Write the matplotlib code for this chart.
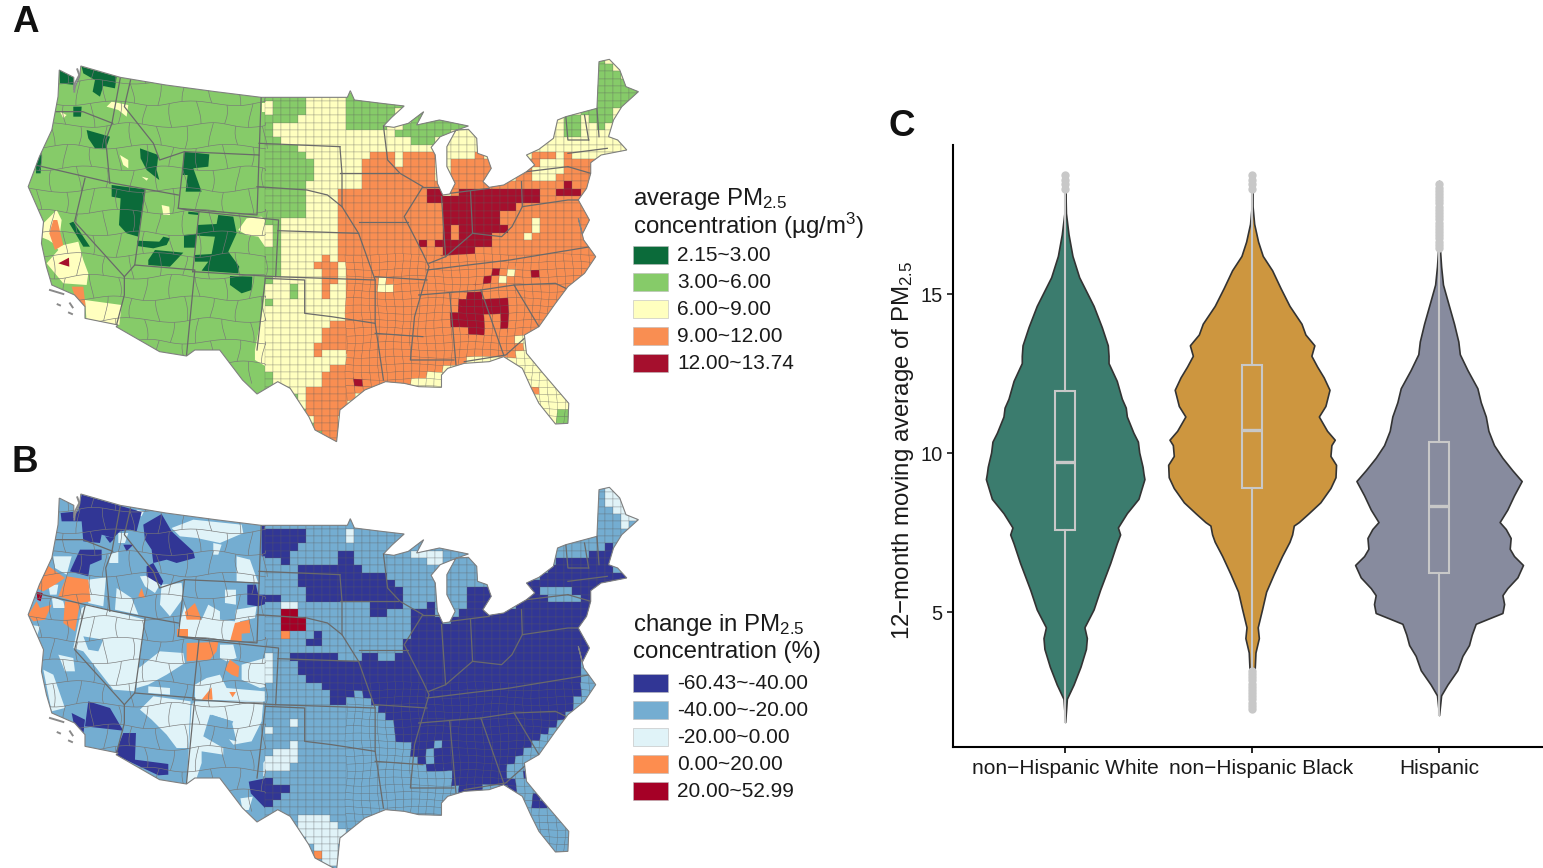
import numpy as np
import matplotlib
matplotlib.use("Agg")
import matplotlib.pyplot as plt
from matplotlib.collections import LineCollection, PolyCollection
from matplotlib.patches import Polygon, Rectangle
from matplotlib.path import Path
from matplotlib.transforms import ScaledTranslation

plt.rcParams["font.family"] = ["Liberation Sans", "DejaVu Sans"]
plt.rcParams["mathtext.fontset"] = "custom"
plt.rcParams["mathtext.rm"] = "Liberation Sans"
plt.rcParams["mathtext.default"] = "regular"

# map outline and state lines, in map units
US_OUTLINE = [
    (143, 90), (178, 112), (178, 150), (192, 110), (195, 78), (290, 112), (400, 135), (520, 155), (630, 172),
    (838, 172), (845, 152), (855, 180), (920, 190), (975, 198), (945, 232), (925, 258), (950, 262), (985, 250),
    (1022, 215), (1005, 255), (1060, 240), (1130, 258), (1098, 272), (1062, 290), (1040, 322), (1050, 345),
    (1055, 430), (1068, 465), (1085, 462), (1098, 430), (1078, 380), (1078, 320), (1100, 270), (1130, 268),
    (1150, 295), (1152, 340), (1175, 350), (1185, 385), (1165, 425), (1180, 442), (1215, 435), (1270, 395),
    (1290, 375), (1270, 345), (1300, 328), (1335, 295), (1345, 240), (1365, 230), (1440, 205), (1445, 65),
    (1470, 58), (1495, 90), (1510, 140), (1540, 155), (1500, 200), (1480, 240), (1468, 290), (1490, 300),
    (1512, 330), (1450, 345), (1425, 368), (1425, 400), (1415, 445), (1395, 480), (1422, 540), (1405, 582),
    (1395, 535), (1408, 600), (1437, 650), (1410, 700), (1370, 740), (1340, 790), (1300, 860), (1265, 885),
    (1270, 940), (1310, 1000), (1372, 1090), (1370, 1150), (1340, 1152), (1300, 1090), (1280, 1040),
    (1260, 985), (1215, 950), (1180, 965), (1120, 970), (1080, 985), (1065, 1005), (1065, 1042), (1010, 1040),
    (975, 1030), (930, 1025), (880, 1050), (820, 1110), (812, 1205), (760, 1170), (745, 1130), (700, 1045),
    (670, 1025), (620, 1062), (585, 1020), (530, 930), (470, 930), (450, 948), (385, 935), (280, 860),
    (285, 855), (205, 835), (205, 800), (180, 765), (125, 735), (112, 680), (100, 610), (105, 545), (68, 440),
    (95, 350), (125, 270), (140, 170),
]

STATE_LINES = [
    [(85, 375), (275, 430), (430, 465)], [(135, 215), (200, 215), (272, 250)], [(290, 115), (270, 250), (255, 300), (265, 430)],
    [(315, 120), (300, 200), (370, 310), (385, 360), (445, 335)], [(445, 335), (625, 345), (620, 525), (430, 505), (445, 335)],
    [(205, 415), (180, 545), (300, 710), (300, 765), (280, 860)], [(350, 450), (325, 675), (300, 710)],
    [(430, 505), (480, 515), (465, 695)], [(325, 675), (470, 690), (450, 945)], [(480, 515), (672, 540), (665, 710), (465, 695)],
    [(640, 715), (620, 930)], [(630, 172), (625, 345)], [(625, 310), (820, 320)], [(620, 440), (740, 450), (790, 465), (825, 500), (865, 580)],
    [(670, 572), (865, 580), (905, 720), (905, 850)], [(665, 710), (905, 720)], [(640, 715), (735, 720), (735, 820), (800, 830), (905, 850), (925, 1020)],
    [(905, 880), (1020, 890)], [(905, 710), (1030, 720)], [(820, 320), (825, 400), (825, 500)], [(820, 400), (960, 400)], [(865, 545), (985, 545)],
    [(925, 258), (935, 360), (965, 400), (1020, 440), (975, 530), (1020, 640), (1035, 680), (1000, 830), (990, 960), (1095, 960)],
    [(1035, 670), (1075, 650), (1140, 580), (1210, 590), (1235, 560), (1260, 500)], [(1020, 440), (1060, 440)], [(1065, 470), (1075, 650)],
    [(1135, 455), (1140, 580)], [(1085, 460), (1180, 445)], [(1258, 425), (1260, 500), (1370, 480), (1395, 480)], [(1030, 690), (1230, 660), (1425, 620)],
    [(1010, 765), (1160, 750), (1240, 735), (1340, 730), (1365, 745)], [(1240, 735), (1300, 860)], [(1160, 750), (1215, 945)], [(1085, 760), (1100, 975)],
    [(1120, 965), (1220, 945), (1265, 895)], [(1270, 395), (1370, 380)], [(1370, 380), (1425, 400)], [(1365, 230), (1370, 300), (1420, 300)],
    [(1420, 300), (1410, 225)], [(1440, 205), (1445, 290)], [(1370, 340), (1465, 325)],
]

# gray islands and sound, in the units of the western crops
COAST_MARKS = [
    [(172, 28), (178, 45), (165, 70), (163, 95)],
    [(90, 690), (130, 702)], [(113, 733), (120, 736)], [(150, 730), (158, 742)], [(147, 758), (156, 762)],
]

# panel A eastern regions in map units, drawn in this order on a green base
A_EAST = [
    (2, [(740, 175), (735, 230), (650, 265), (700, 300), (715, 310), (750, 370), (745, 470), (745, 525), (670, 550), (670, 700),
         (640, 740), (635, 800), (615, 930), (615, 960), (670, 1000), (645, 1022), (700, 1040), (740, 1130), (760, 1175), (820, 1215),
         (1600, 1215), (1600, 0), (740, 0)]),
    (1, [(835, 165), (975, 190), (925, 265), (900, 272), (840, 265), (835, 250)]),
    (1, [(950, 270), (1022, 210), (1135, 250), (1060, 300), (1040, 325), (1000, 305), (960, 290)]),
    (1, [(1440, 50), (1560, 150), (1490, 210), (1450, 265), (1430, 260), (1428, 220), (1400, 240), (1400, 290), (1370, 295), (1365, 225), (1440, 200)]),
    (1, [(1340, 1120), (1375, 1110), (1375, 1165), (1340, 1155)]),
    (3, [(870, 350), (940, 335), (950, 380), (975, 375), (975, 345), (1040, 345), (1060, 430), (1068, 470), (1085, 470), (1085, 370), (1140, 365),
         (1165, 335), (1190, 385), (1170, 430), (1215, 435), (1270, 400), (1275, 345), (1320, 325), (1340, 350), (1310, 370), (1290, 395), (1330, 410),
         (1365, 380), (1370, 335), (1380, 365), (1420, 360), (1450, 350), (1470, 420), (1460, 640), (1400, 760), (1300, 880), (1250, 890), (1260, 935),
         (1205, 950), (1130, 960), (1040, 1000), (1000, 1015), (1000, 1060), (850, 1060), (815, 1170), (810, 1215), (770, 1170), (745, 1130), (745, 1050),
         (770, 1040), (780, 990), (850, 950), (800, 920), (755, 950), (775, 880), (805, 850), (840, 830), (830, 720), (820, 600), (815, 500), (820, 450), (870, 450)]),
    (3, [(755, 680), (780, 640), (805, 660), (810, 720), (795, 780), (775, 770), (778, 705)]),
    (2, [(1200, 745), (1230, 690), (1255, 670), (1230, 725)]),
    (2, [(1260, 615), (1285, 540), (1312, 500), (1290, 585)]),
    (2, [(920, 715), (955, 725), (940, 755), (918, 750)]),
    (2, [(1285, 400), (1345, 385), (1345, 425), (1300, 425)]),
    (2, [(1240, 605), (1255, 605), (1250, 630), (1240, 630)]),
    (1, [(695, 738), (722, 735), (722, 770), (695, 770)]),
    (1, [(640, 770), (660, 770), (660, 795), (640, 795)]),
    (3, [(1280, 1035), (1298, 1035), (1298, 1055), (1283, 1055)]),
    (4, [(1020, 455), (1060, 455), (1070, 465), (1135, 450), (1200, 450), (1260, 445), (1295, 445), (1295, 495), (1255, 500), (1235, 510), (1230, 565),
         (1190, 580), (1185, 620), (1130, 640), (1100, 640), (1065, 660), (1055, 600), (1070, 570), (1065, 490), (1025, 480)]),
    (3, [(1085, 570), (1105, 565), (1122, 610), (1100, 610)]),
    (3, [(1205, 500), (1232, 505), (1228, 550), (1205, 550)]),
    (4, [(1000, 605), (1030, 600), (1030, 625), (1010, 635)]),
    (4, [(1090, 820), (1115, 800), (1120, 750), (1150, 750), (1165, 780), (1225, 775), (1225, 880), (1205, 830), (1165, 830), (1175, 880), (1130, 895), (1110, 860), (1090, 850)]),
    (4, [(1140, 735), (1175, 710), (1210, 685), (1190, 715), (1165, 745)]),
    (4, [(1283, 685), (1298, 685), (1292, 720), (1283, 715)]),
    (4, [(1350, 445), (1375, 425), (1395, 455), (1375, 480), (1350, 470)]),
    (4, [(1325, 497), (1335, 510), (1325, 510)]),
    (4, [(848, 1010), (885, 1020), (870, 1050), (850, 1040)]),
]

# panel A western regions, in the units of the western crop
A_WEST = [
    (2, [(260, 140), (275, 125), (325, 135), (320, 170), (295, 150)]),
    (2, [(120, 155), (140, 165), (130, 175)]),
    (2, [(300, 285), (325, 300), (325, 325), (310, 315)]),
    (2, [(365, 350), (385, 355), (380, 362)]),
    (2, [(425, 435), (448, 440), (450, 465), (430, 465)]),
    (2, [(70, 490), (110, 450), (125, 480), (115, 560), (85, 540), (60, 530)]),
    (2, [(108, 560), (175, 545), (190, 600), (205, 640), (200, 675), (130, 670), (80, 610), (115, 570)]),
    (2, [(195, 720), (305, 735), (298, 795), (200, 785)]),
    (2, [(655, 510), (680, 475), (725, 470), (750, 495), (770, 560), (735, 560), (715, 530), (680, 525)]),
    (2, [(725, 130), (755, 130), (755, 155), (725, 155)]),
    (2, [(745, 210), (785, 180), (830, 200), (830, 240), (790, 245)]),
    (3, [(100, 480), (112, 480), (130, 555), (105, 570), (88, 520)]),
    (3, [(155, 680), (190, 680), (197, 740), (175, 740)]),
    (4, [(115, 610), (147, 593), (148, 620)]),
    (0, [(118, 30), (165, 55), (165, 75), (120, 70)]),
    (0, [(185, 20), (290, 50), (285, 85), (250, 78), (240, 110), (218, 95), (225, 60), (190, 40)]),
    (0, [(160, 140), (185, 140), (183, 170), (160, 170)]),
    (0, [(200, 210), (270, 230), (258, 265), (225, 265), (205, 235)]),
    (0, [(50, 265), (65, 285), (62, 340), (48, 340)]),
    (0, [(360, 265), (415, 285), (410, 330), (418, 360), (405, 350), (380, 330), (362, 295)]),
    (0, [(492, 275), (568, 283), (565, 320), (520, 325), (545, 395), (497, 395), (503, 345), (488, 345)]),
    (0, [(275, 375), (375, 388), (355, 530), (320, 520), (297, 495), (302, 415), (275, 410)]),
    (0, [(148, 490), (160, 485), (210, 560), (190, 560)]),
    (0, [(532, 495), (590, 492), (595, 465), (640, 470), (650, 520), (625, 575), (658, 620), (655, 640), (545, 632), (565, 605), (525, 605), (525, 585),
         (575, 582), (585, 530), (532, 527)]),
    (0, [(492, 525), (528, 522), (528, 563), (492, 563)]),
    (0, [(352, 542), (418, 545), (430, 530), (450, 535), (440, 555), (400, 565), (352, 558)]),
    (0, [(385, 600), (405, 570), (490, 578), (450, 620), (385, 615)]),
    (0, [(630, 648), (697, 650), (695, 690), (665, 700), (630, 675)]),
    (0, [(505, 455), (535, 458), (535, 465), (505, 462)]),
]

B_EAST = [
    (0, [(1335, 265), (1440, 250), (1470, 230), (1478, 290), (1515, 320), (1450, 350), (1430, 420), (1415, 475), (1410, 570), (1405, 680), (1380, 700),
         (1370, 740), (1310, 800), (1270, 850), (1215, 885), (1250, 965), (1210, 950), (1115, 965), (1085, 950), (1085, 890), (1035, 900), (1000, 860),
         (995, 830), (960, 810), (950, 750), (905, 710), (880, 680), (865, 650), (820, 700), (790, 690), (785, 650), (720, 620), (705, 570), (695, 545),
         (745, 540), (850, 575), (880, 550), (945, 580), (975, 540), (985, 480), (985, 430), (1040, 400), (1065, 465), (1100, 440), (1125, 420), (1125, 340),
         (1150, 355), (1170, 335), (1190, 385), (1165, 430), (1220, 415), (1270, 390), (1265, 340), (1330, 310)]),
    (1, [(1295, 365), (1360, 345), (1400, 385), (1345, 410), (1320, 375)]),
    (1, [(1050, 815), (1060, 815), (1058, 860), (1030, 880), (1022, 860)]),
    (0, [(715, 305), (745, 280), (800, 290), (825, 235), (855, 240), (860, 290), (935, 320), (985, 370), (965, 405), (910, 440), (885, 405), (820, 400), (745, 390)]),
    (0, [(745, 500), (785, 485), (770, 520), (745, 540)]),
    (0, [(600, 935), (640, 925), (705, 960), (670, 985), (640, 1015), (605, 970)]),
    (0, [(715, 845), (742, 860), (725, 862)]),
    (0, [(1280, 975), (1310, 975), (1330, 1005), (1285, 1015)]),
    (0, [(1255, 890), (1285, 910), (1270, 925)]),
    (2, [(1450, 90), (1470, 45), (1500, 65), (1540, 150), (1500, 180), (1490, 130), (1455, 110)]),
    (2, [(720, 1040), (790, 1040), (835, 1080), (810, 1190), (770, 1170), (720, 1080)]),
    (2, [(580, 985), (610, 980), (600, 1020), (585, 1020)]),
    (2, [(1000, 240), (1080, 235), (1060, 280), (1000, 270)]),
    (2, [(835, 165), (860, 165), (860, 230), (840, 225)]),
    (2, [(785, 945), (803, 945), (795, 965)]),
    (3, [(760, 1135), (778, 1135), (778, 1158), (760, 1158)]),
]

# panel B western regions, in the units of the lower western crop
B_WEST = [
    (2, [(205, 350), (375, 395), (345, 610), (280, 605), (190, 490), (160, 480), (185, 360)]),
    (1, [(190, 445), (250, 455), (235, 490), (205, 485)]),
    (2, [(205, 275), (258, 268), (250, 355), (205, 345)]),
    (2, [(290, 300), (335, 330), (355, 380), (285, 365)]),
    (2, [(360, 265), (395, 262), (420, 290), (405, 315), (375, 295)]),
    (2, [(425, 290), (485, 285), (490, 330), (450, 385), (420, 350)]),
    (2, [(495, 350), (505, 390), (545, 395), (565, 350), (600, 370), (600, 395), (645, 400), (648, 365), (710, 355), (705, 390), (660, 400), (660, 460), (480, 445), (475, 420)]),
    (2, [(615, 305), (648, 305), (648, 350), (615, 345)]),
    (2, [(100, 205), (155, 205), (140, 260), (105, 240)]),
    (2, [(85, 290), (115, 290), (110, 320), (90, 320)]),
    (2, [(95, 325), (130, 340), (135, 360), (100, 360)]),
    (2, [(28, 410), (60, 415), (45, 465), (35, 440)]),
    (2, [(70, 545), (100, 560), (135, 660), (95, 670)]),
    (2, [(115, 500), (160, 510), (165, 550), (135, 550)]),
    (2, [(350, 545), (420, 490), (490, 495), (495, 525), (440, 560), (385, 590), (350, 600)]),
    (2, [(385, 595), (450, 600), (450, 620), (385, 615)]),
    (2, [(360, 665), (400, 625), (512, 640), (505, 780), (470, 780), (440, 740), (415, 715), (395, 695)]),
    (2, [(525, 640), (730, 640), (725, 700), (695, 760), (640, 770), (620, 745), (640, 700), (570, 680), (550, 745), (610, 780), (610, 800), (545, 790), (545, 825), (525, 885), (500, 885), (515, 650)]),
    (1, [(575, 680), (635, 700), (650, 760), (610, 750), (580, 725)]),
    (2, [(455, 120), (520, 95), (665, 110), (670, 135), (600, 165), (530, 150), (480, 145)]),
    (2, [(580, 165), (605, 170), (595, 200), (580, 200)]),
    (2, [(650, 205), (690, 215), (715, 285), (650, 280)]),
    (2, [(525, 590), (560, 570), (600, 560), (620, 600), (735, 610), (735, 640), (525, 635)]),
    (2, [(665, 530), (770, 500), (770, 590), (720, 600), (665, 575)]),
    (2, [(600, 470), (640, 470), (650, 510), (620, 520), (600, 510)]),
    (2, [(760, 780), (825, 770), (825, 830), (730, 865), (730, 825)]),
    (2, [(735, 710), (760, 710), (760, 730), (735, 730)]),
    (2, [(805, 695), (840, 695), (840, 710), (805, 710)]),
    (2, [(350, 65), (372, 70), (365, 85), (350, 82)]),
    (2, [(295, 135), (325, 135), (315, 165), (295, 165)]),
    (2, [(268, 200), (295, 190), (295, 225), (268, 225)]),
    (2, [(780, 345), (835, 350), (835, 360), (780, 360)]),
    (0, [(185, 20), (365, 72), (350, 130), (330, 125), (300, 130), (280, 150), (245, 140), (240, 165), (190, 160), (185, 100), (125, 100), (122, 75), (175, 70)]),
    (0, [(370, 110), (425, 78), (455, 130), (520, 190), (525, 210), (470, 225), (440, 215), (400, 225), (395, 185), (375, 155)]),
    (0, [(150, 250), (180, 185), (245, 185), (245, 215), (210, 230), (205, 265)]),
    (0, [(380, 235), (400, 225), (430, 280), (425, 292), (380, 265)]),
    (0, [(682, 290), (708, 290), (715, 320), (775, 320), (775, 335), (715, 355), (682, 350)]),
    (0, [(725, 112), (855, 112), (855, 165), (820, 190), (815, 230), (790, 245), (775, 205), (725, 205)]),
    (0, [(205, 640), (270, 660), (310, 728), (195, 715)]),
    (0, [(155, 675), (195, 695), (190, 740), (165, 725)]),
    (0, [(310, 735), (348, 735), (345, 815), (445, 828), (445, 860), (415, 862), (285, 800)]),
    (0, [(255, 145), (285, 150), (270, 165)]),
    (0, [(310, 170), (340, 170), (320, 190)]),
    (3, [(50, 270), (80, 230), (135, 270), (105, 290), (70, 310), (50, 300)]),
    (3, [(115, 325), (140, 265), (205, 275), (212, 340), (180, 345)]),
    (3, [(25, 380), (50, 340), (60, 360), (95, 350), (75, 395), (40, 400)]),
    (3, [(135, 340), (180, 345), (165, 430), (130, 405)]),
    (3, [(355, 325), (365, 300), (375, 330)]),
    (3, [(495, 372), (525, 345), (545, 395), (500, 395)]),
    (3, [(472, 422), (505, 422), (505, 447), (472, 447)]),
    (3, [(630, 460), (645, 405), (690, 395), (690, 435), (665, 437), (665, 460)]),
    (3, [(500, 465), (595, 462), (590, 490), (570, 515), (535, 517), (500, 520)]),
    (3, [(615, 545), (630, 515), (658, 535), (655, 568), (635, 560)]),
    (3, [(545, 635), (575, 598), (578, 635)]),
    (3, [(628, 612), (648, 612), (638, 628)]),
    (3, [(752, 482), (772, 482), (770, 495), (752, 495)]),
    (3, [(775, 425), (865, 425), (855, 435), (805, 437), (785, 452)]),
    (4, [(775, 365), (835, 365), (838, 390), (868, 385), (868, 425), (778, 425)]),
    (4, [(50, 312), (68, 315), (62, 340), (52, 335)]),
]

A_COLORS = ["#0B6B3A", "#86CB69", "#FFFFBF", "#F98E52", "#A50F2D"]
B_COLORS = ["#313695", "#74ADD1", "#E0F3F8", "#FD8D4F", "#A50026"]
A_LABELS = ["2.15~3.00", "3.00~6.00", "6.00~9.00", "9.00~12.00", "12.00~13.74"]
B_LABELS = ["-60.43~-40.00", "-40.00~-20.00", "-20.00~0.00", "0.00~20.00", "20.00~52.99"]

# violin profiles: PM2.5 value and half width in category units
WHITE_Y = [1.54, 2.27, 2.72, 3.28, 3.84, 4.18, 4.52, 5.08, 5.70, 6.54, 7.16, 7.44, 7.66, 8.11, 8.56, 9.18, 9.35, 9.57, 10.02, 10.36, 10.64, 11.15, 11.43, 11.71, 12.27, 12.83, 13.06, 13.39, 13.96, 14.63, 15.53, 16.20, 16.88, 17.55, 18.67]
WHITE_W = [0, 0.009, 0.045, 0.082, 0.111, 0.116, 0.103, 0.152, 0.187, 0.241, 0.276, 0.294, 0.282, 0.330, 0.392, 0.424, 0.419, 0.414, 0.396, 0.389, 0.365, 0.330, 0.324, 0.303, 0.276, 0.232, 0.232, 0.228, 0.196, 0.152, 0.075, 0.039, 0.018, 0.004, 0]
BLACK_Y = [3.22, 3.73, 4.18, 4.52, 5.08, 5.64, 6.20, 6.76, 7.21, 7.44, 7.72, 7.83, 8.11, 8.45, 8.90, 9.24, 9.63, 9.91, 10.25, 10.42, 10.70, 11.15, 11.48, 11.99, 12.38, 12.72, 13.06, 13.39, 13.73, 14.07, 14.63, 15.19, 15.75, 16.20, 16.65, 17.21, 17.78, 18.67]
BLACK_W = [0.014, 0.018, 0.036, 0.030, 0.053, 0.075, 0.116, 0.160, 0.200, 0.214, 0.223, 0.250, 0.303, 0.365, 0.419, 0.446, 0.449, 0.419, 0.424, 0.442, 0.401, 0.357, 0.392, 0.414, 0.383, 0.348, 0.317, 0.333, 0.285, 0.264, 0.200, 0.152, 0.107, 0.057, 0.032, 0.011, 0.002, 0]
HISP_Y = [1.76, 2.38, 2.72, 3.17, 3.62, 3.96, 4.29, 4.63, 4.80, 4.97, 5.25, 5.53, 5.75, 6.09, 6.48, 6.76, 6.99, 7.33, 7.61, 7.83, 8.22, 8.67, 9.12, 9.46, 9.85, 10.25, 10.70, 11.15, 11.60, 12.04, 12.61, 13.11, 13.51, 14.07, 14.63, 15.30, 15.87, 16.48, 18.56]
HISP_W = [0, 0.011, 0.045, 0.098, 0.125, 0.160, 0.175, 0.196, 0.267, 0.339, 0.348, 0.339, 0.365, 0.419, 0.449, 0.401, 0.378, 0.383, 0.357, 0.324, 0.365, 0.401, 0.442, 0.392, 0.339, 0.294, 0.264, 0.250, 0.223, 0.205, 0.152, 0.111, 0.103, 0.080, 0.053, 0.021, 0.011, 0.004, 0]

GROUPS = ["non\u2212Hispanic White", "non\u2212Hispanic Black", "Hispanic"]
VIOLIN_COLORS = ["#3B7C6E", "#CD963F", "#878B9E"]
BOX_Q1 = [7.57, 8.91, 6.23]
BOX_MED = [9.73, 10.74, 8.32]
BOX_Q3 = [11.96, 12.76, 10.35]
WHISK_LOW = [1.54, 3.22, 1.76]
WHISK_HIGH = [18.4, 18.4, 16.4]
OUTLIERS_WHITE = [18.3, 18.45, 18.6, 18.75]
OUTLIERS_BLACK = [1.95, 2.05, 2.15, 2.25, 2.35, 2.45, 2.55, 2.65, 2.75, 2.85, 2.95, 3.05, 3.15, 18.3, 18.45, 18.6, 18.75]
OUTLIERS_HISP = [16.45, 16.55, 16.65, 16.75, 16.85, 16.95, 17.05, 17.15, 17.25, 17.35, 17.45, 17.55, 17.65, 17.75, 17.85, 17.95, 18.05, 18.15, 18.25, 18.35, 18.45]


def from_crop(regions, dy):
    # western crops are 0.804 map units wide per crop unit
    out = []
    for cls, pts in regions:
        arr = np.array(pts, dtype=float)
        out.append((cls, list(zip(48.2 + 0.804 * arr[:, 0], arr[:, 1] + dy))))
    return out


def wobble(x, y):
    return x + 7 * np.sin(y / 29 + x / 41), y + 7 * np.sin(x / 31 - y / 47)


def draw_map(ax, regions, colors, shift):
    ax.set_xlim(0, 1568)
    ax.set_ylim(1230, 0)
    ax.axis("off")

    outline = Polygon(US_OUTLINE, closed=True, facecolor=colors[1], edgecolor="none")
    ax.add_patch(outline)
    shapes = []
    for cls, pts in regions:
        pts = np.array(pts, dtype=float) + [0, shift]
        patch = Polygon(pts, closed=True, facecolor=colors[cls], edgecolor="none")
        ax.add_patch(patch)
        patch.set_clip_path(outline)
        shapes.append((cls, Path(pts)))

    # counties: blocks in the east take the colour under their centre
    xs = np.arange(640, 1560, 19.5)
    ys = np.arange(50, 1225, 22)
    centres = np.array([(x + 9.75, y + 11) for y in ys for x in xs])
    cls_arr = np.full(len(centres), 1)
    for cls, path in shapes:
        cls_arr[path.contains_points(centres)] = cls
    east = []
    east_colors = []
    for (cx, cy), cls in zip(centres, cls_arr):
        quad = [(cx - 9.75, cy - 11), (cx + 9.75, cy - 11), (cx + 9.75, cy + 11), (cx - 9.75, cy + 11)]
        if cx > 840 and cy > 640:
            quad = [(x + 0.4 * (wobble(x, y)[0] - x), y + 0.4 * (wobble(x, y)[1] - y)) for x, y in quad]
        east.append(quad)
        east_colors.append(colors[cls])
    coll = PolyCollection(east, facecolors=east_colors, edgecolors="#60606090", linewidths=0.3)
    ax.add_collection(coll)
    coll.set_clip_path(outline)

    # larger, uneven counties in the west, only the lines
    segs = []
    for row, y in enumerate(np.arange(60, 1000, 65)):
        for x in np.arange(30 + (row % 2) * 32, 640, 64):
            ts = np.linspace(0, 1, 6)
            hx, hy = wobble(x + 64 * ts, y + 0 * ts)
            vx, vy = wobble(x + 0 * ts, y + 65 * ts)
            segs.append(np.column_stack([np.minimum(hx, 640), hy]))
            segs.append(np.column_stack([vx, vy]))
    coll2 = LineCollection(segs, colors="#777777", linewidths=0.45)
    ax.add_collection(coll2)
    coll2.set_clip_path(outline)

    for line in STATE_LINES:
        arr = np.array(line)
        ln, = ax.plot(arr[:, 0], arr[:, 1], color="#6a6a6a", lw=0.9)
        ln.set_clip_path(outline)
    ax.add_patch(Polygon(US_OUTLINE, closed=True, facecolor="none", edgecolor="#808080", lw=0.8))
    for mark in COAST_MARKS:
        arr = np.array(mark, dtype=float)
        ax.plot(48.2 + 0.804 * arr[:, 0], arr[:, 1] + 60, color="#8a8a8a", lw=1.4)


def draw_legend(ax, title_lines, title_y, tops, colors, labels):
    for line, y in zip(title_lines, title_y):
        ax.text(633, y, line, fontsize=17.3, va="center", ha="left", color="#1a1a1a")
    for top, col, lab in zip(tops, colors, labels):
        ax.add_patch(Rectangle((633, top), 35, 18, facecolor=col, edgecolor="#bbbbbb", lw=0.4))
        ax.text(677, top + 9.5, lab, fontsize=15, va="center", ha="left", color="#1a1a1a")


def draw_violins(fig, ax):
    profiles = [(WHITE_Y, WHITE_W), (BLACK_Y, BLACK_W), (HISP_Y, HISP_W)]
    outliers = [OUTLIERS_WHITE, OUTLIERS_BLACK, OUTLIERS_HISP]
    for i, (ys, ws) in enumerate(profiles):
        ys = np.array(ys)
        ws = np.array(ws)
        ax.fill_betweenx(ys, i - ws, i + ws, facecolor=VIOLIN_COLORS[i], edgecolor="#333333", lw=1.2, joinstyle="round", zorder=2)
        ax.plot([i, i], [WHISK_LOW[i], BOX_Q1[i]], color="#C8C8C8", lw=1.5, zorder=3)
        ax.plot([i, i], [BOX_Q3[i], WHISK_HIGH[i]], color="#C8C8C8", lw=1.5, zorder=3)
        ax.add_patch(Rectangle((i - 0.052, BOX_Q1[i]), 0.104, BOX_Q3[i] - BOX_Q1[i], facecolor="none", edgecolor="#C8C8C8", lw=1.5, zorder=3))
        ax.plot([i - 0.052, i + 0.052], [BOX_MED[i], BOX_MED[i]], color="#C8C8C8", lw=2.4, zorder=3, solid_capstyle="butt")
        ax.scatter([i] * len(outliers[i]), outliers[i], s=36, color="#C8C8C8", linewidths=0, zorder=4)

    ax.set_xlim(-0.6, 2.556)
    ax.set_ylim(0.755, 19.69)
    ax.set_xticks(range(3))
    ax.set_xticklabels(GROUPS, fontsize=15, color="#1a1a1a")
    ax.set_yticks([5, 10, 15])
    ax.tick_params(axis="y", labelsize=14.5, length=4, width=1.2, colors="#1a1a1a")
    ax.tick_params(axis="x", length=4, width=1.2, pad=5)
    ax.set_ylabel("12\u2212month moving average of PM$_{2.5}$", fontsize=17.3, color="#1a1a1a")
    ax.yaxis.set_label_coords(-0.063, 0.492)
    ax.spines["top"].set_visible(False)
    ax.spines["right"].set_visible(False)
    ax.spines["left"].set_linewidth(1.5)
    ax.spines["bottom"].set_linewidth(1.5)
    # the middle label sits a little to the right of its tick
    lab = ax.get_xticklabels()[1]
    lab.set_transform(lab.get_transform() + ScaledTranslation(9 / 100, 0, fig.dpi_scale_trans))


def main():
    W, H = 1543, 868
    fig = plt.figure(figsize=(W / 100, H / 100), dpi=100)

    ax_a = fig.add_axes([0, 1 - 450 / H, 650 / W, 410 / H])
    draw_map(ax_a, A_EAST + from_crop(A_WEST, 60), A_COLORS, 0)
    ax_b = fig.add_axes([0, 1 - 878 / H, 650 / W, 410 / H])
    draw_map(ax_b, B_EAST + from_crop(B_WEST, 54), B_COLORS, 6)

    ax_c = fig.add_axes([953 / W, 1 - 747 / H, 590 / W, 602 / H])
    draw_violins(fig, ax_c)

    over = fig.add_axes([0, 0, 1, 1], facecolor="none")
    over.set_xlim(0, W)
    over.set_ylim(H, 0)
    over.axis("off")
    draw_legend(over, ["average PM$_{2.5}$", "concentration (\u00b5g/m$^{3}$)"], [199, 226], [246, 273, 300, 327, 354], A_COLORS, A_LABELS)
    draw_legend(over, ["change in PM$_{2.5}$", "concentration (%)"], [625, 652], [674, 701, 728, 755, 782], B_COLORS, B_LABELS)
    over.text(12, 22, "A", fontsize=26.5, fontweight="bold", va="center", ha="left", color="#111111")
    over.text(12, 462, "B", fontsize=26.5, fontweight="bold", va="center", ha="left", color="#111111")
    over.text(888, 126, "C", fontsize=26.5, fontweight="bold", va="center", ha="left", color="#111111")

    fig.savefig("out.png", dpi=100)
    plt.close(fig)


if __name__ == "__main__":
    main()
